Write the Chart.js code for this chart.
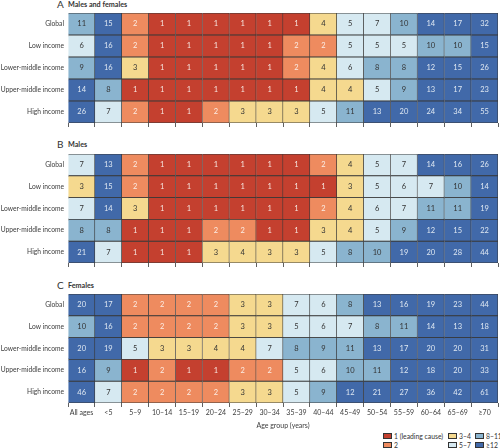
<!DOCTYPE html>
<html>
<head>
<meta charset="utf-8">
<script src="https://cdn.jsdelivr.net/npm/chart.js@4"></script>
<style>
  html, body { margin: 0; padding: 0; background: #fff; }
  body { width: 500px; height: 448px; position: relative; overflow: hidden; font-family: Lato, sans-serif; color: #333; }
  canvas { position: absolute; left: 0; }
  .panel { position: absolute; left: 57px; font-size: 10px; line-height: 12px; }
  .panel span { position: absolute; left: 11px; top: 0; font-size: 7.2px; font-weight: 700; white-space: nowrap; }
  .key { position: absolute; font-size: 6.8px; line-height: 8px; white-space: nowrap; padding-left: 11px; }
  .key i { position: absolute; left: 0; top: 1px; width: 7px; height: 4px; border: 1px solid #333; }
</style>
</head>
<body>
<div class="panel" style="top:-2px">A<span style="top:1px">Males and females</span></div>
<div class="panel" style="top:138px">B<span style="top:1px">Males</span></div>
<div class="panel" style="top:279px">C<span style="top:1px">Females</span></div>

<canvas id="chartA"></canvas>
<canvas id="chartB"></canvas>
<canvas id="chartC"></canvas>

<div id="legend"></div>

<script>
const incomeGroups = ['Global', 'Low income', 'Lower-middle income', 'Upper-middle income', 'High income'];
const ageGroups = ['All ages', '<5', '5–9', '10–14', '15–19', '20–24', '25–29', '30–34', '35–39', '40–44', '45–49', '50–54', '55–59', '60–64', '65–69', '≥70'];

// ranks per income group, one row per age group column
const ranksBoth = [
    [11, 15, 2, 1, 1, 1, 1, 1, 1, 4, 5, 7, 10, 14, 17, 32],
    [6, 16, 2, 1, 1, 1, 1, 1, 2, 2, 5, 5, 5, 10, 10, 15],
    [9, 16, 3, 1, 1, 1, 1, 1, 2, 4, 6, 8, 8, 12, 15, 26],
    [14, 8, 1, 1, 1, 1, 1, 1, 1, 4, 4, 5, 9, 13, 17, 23],
    [26, 7, 2, 1, 1, 2, 3, 3, 3, 5, 11, 13, 20, 24, 34, 55]
];
const ranksMales = [
    [7, 13, 2, 1, 1, 1, 1, 1, 1, 2, 4, 5, 7, 14, 16, 26],
    [3, 15, 2, 1, 1, 1, 1, 1, 1, 1, 3, 5, 6, 7, 10, 14],
    [7, 14, 3, 1, 1, 1, 1, 1, 1, 2, 4, 6, 7, 11, 11, 19],
    [8, 8, 1, 1, 1, 2, 2, 1, 1, 3, 4, 5, 9, 12, 15, 22],
    [21, 7, 1, 1, 1, 3, 4, 3, 3, 5, 8, 10, 19, 20, 28, 44]
];
const ranksFemales = [
    [20, 17, 2, 2, 2, 2, 3, 3, 7, 6, 8, 13, 16, 19, 23, 44],
    [10, 16, 2, 2, 2, 2, 3, 3, 5, 6, 7, 8, 11, 14, 13, 18],
    [20, 19, 5, 3, 3, 4, 4, 7, 8, 9, 11, 13, 17, 20, 20, 31],
    [16, 9, 1, 2, 1, 1, 2, 2, 5, 6, 10, 11, 12, 18, 20, 33],
    [46, 7, 2, 2, 2, 2, 3, 3, 5, 9, 12, 21, 27, 36, 42, 61]
];

const rankLabels = ['1 (leading cause)', '2', '3–4', '5–7', '8–11', '≥12'];
const rankColors = ['#c4402f', '#ee8b5f', '#f5d98f', '#d6e9f1', '#8ab4cf', '#4169a9'];
const rankText = ['#f6e6e0', '#fbeee6', '#333333', '#333333', '#333333', '#dfe8f2'];

function rankClass(rank) {
    if (rank === 1) return 0;
    if (rank === 2) return 1;
    if (rank <= 4) return 2;
    if (rank <= 7) return 3;
    if (rank <= 11) return 4;
    return 5;
}

const fontName = 'Lato, sans-serif';

// writes the rank in the middle of each bar segment
const cellLabels = {
    id: 'cellLabels',
    afterDatasetsDraw(chart) {
        const ctx = chart.ctx;
        ctx.save();
        ctx.font = '7.5px ' + fontName;
        ctx.textAlign = 'center';
        ctx.textBaseline = 'middle';
        chart.data.datasets.forEach((dataset, i) => {
            chart.getDatasetMeta(i).data.forEach((bar, row) => {
                const rank = dataset.ranks[row];
                const p = bar.getCenterPoint();
                ctx.fillStyle = rankText[rankClass(rank)];
                ctx.fillText(rank, p.x, p.y);
            });
        });
        ctx.restore();
    }
};

function drawPanel(id, ranks, top, height, areaTop, areaHeight, showLabels) {
    const canvas = document.getElementById(id);
    canvas.style.top = top + 'px';
    canvas.style.width = '500px';
    canvas.style.height = height + 'px';
    canvas.width = 500;
    canvas.height = height;

    const datasets = ageGroups.map((age, col) => {
        const ranksInCol = ranks.map(row => row[col]);
        return {
            label: age,
            data: ranksInCol.map(() => 1),
            ranks: ranksInCol,
            backgroundColor: ranksInCol.map(r => rankColors[rankClass(r)]),
            borderColor: '#383838',
            borderWidth: 0.8,
            barPercentage: 1,
            categoryPercentage: 1
        };
    });

    new Chart(canvas, {
        type: 'bar',
        data: { labels: incomeGroups, datasets: datasets },
        plugins: [cellLabels],
        options: {
            indexAxis: 'y',
            responsive: false,
            animation: false,
            layout: { padding: { top: areaTop, right: 1, left: 0, bottom: 0 } },
            plugins: { legend: { display: false }, tooltip: { enabled: false } },
            scales: {
                x: {
                    type: 'linear',
                    stacked: true,
                    min: 0,
                    max: ageGroups.length,
                    grid: { drawOnChartArea: false, drawTicks: true, tickLength: 4, color: '#383838', lineWidth: 0.8 },
                    border: { display: false },
                    ticks: {
                        stepSize: 1,
                        autoSkip: false,
                        maxRotation: 0,
                        padding: 2,
                        labelOffset: 13.5,
                        color: '#3c3c3c',
                        font: { family: fontName, size: 7 },
                        callback: v => (showLabels && v < ageGroups.length ? ageGroups[v] : '')
                    },
                    title: {
                        display: showLabels,
                        text: 'Age group (years)',
                        color: '#3c3c3c',
                        font: { family: fontName, size: 7 },
                        padding: { top: 1, bottom: 0 }
                    },
                    afterFit: s => { s.height = height - areaTop - areaHeight; }
                },
                y: {
                    stacked: true,
                    grid: { display: false, drawTicks: false },
                    border: { display: false },
                    ticks: {
                        color: '#3c3c3c',
                        padding: 4,
                        font: { family: fontName, size: 6.7 },
                        autoSkip: false
                    },
                    afterFit: s => { s.width = 68; }
                }
            }
        }
    });
}

drawPanel('chartA', ranksBoth, 0, 135, 13, 110, false);
drawPanel('chartB', ranksMales, 145, 130, 9, 109, false);
drawPanel('chartC', ranksFemales, 285, 145, 9, 109, true);

// colour key, laid out in three columns like the journal figure
const keySlots = [[383, 432], [383, 441], [448, 432], [448, 441], [475, 432], [475, 441]];
const legend = document.getElementById('legend');
rankLabels.forEach((label, k) => {
    const el = document.createElement('div');
    el.className = 'key';
    el.style.left = keySlots[k][0] + 'px';
    el.style.top = keySlots[k][1] + 'px';
    el.innerHTML = '<i style="background:' + rankColors[k] + '"></i>' + label;
    legend.appendChild(el);
});
</script>
</body>
</html>
